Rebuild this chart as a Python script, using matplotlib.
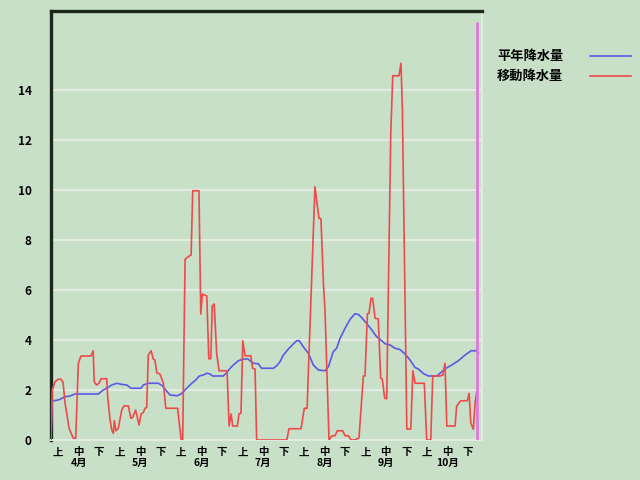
import matplotlib
matplotlib.use("Agg")
import matplotlib.pyplot as plt
from matplotlib.lines import Line2D

plt.rcParams['font.family'] = ['Noto Sans CJK JP', 'DejaVu Sans']

# ---- data (day index from April 1) ----
normal_days = [0, 0.6, 3.6, 5.0, 7.0, 9.5, 11.9, 23.5, 26.0, 28.5, 30.2, 32.7, 34.8, 37.7,
               39.8, 44.8, 45.9, 48.4, 53.4, 55.4, 57.1, 59.2, 62.9, 65.0, 67.5, 70.0, 71.6,
               73.8, 75.8, 77.5, 79.1, 80.4, 85.7, 87.4, 89.1, 90.7, 93.2, 95.7, 98.0, 100.6,
               103.1, 104.8, 110.6, 112.3, 113.9, 115.6, 118.1, 120.5, 122.2, 123.5, 125.5,
               128.0, 130.5, 133.0, 136.3, 138.0, 140.4, 142.1, 143.8, 146.3, 148.8, 151.2,
               152.9, 154.6, 157.1, 159.6, 162.0, 164.5, 166.2, 168.7, 171.1, 173.6, 176.1,
               178.6, 181.1, 182.7, 185.2, 187.7, 191.9, 194.4, 196.9, 199.4, 202.6, 206.0,
               209.0, 211.4, 212.6]
normal_vals = [0, 1.56, 1.60, 1.65, 1.73, 1.76, 1.84, 1.84, 2.00, 2.11, 2.20, 2.27, 2.23, 2.20,
               2.07, 2.07, 2.20, 2.27, 2.27, 2.17, 2.00, 1.80, 1.77, 1.86, 2.07, 2.27, 2.37,
               2.56, 2.60, 2.67, 2.64, 2.56, 2.56, 2.69, 2.87, 3.00, 3.17, 3.24, 3.24, 3.07,
               3.05, 2.87, 2.87, 2.97, 3.13, 3.40, 3.64, 3.84, 3.97, 3.97, 3.73,
               3.47, 3.00, 2.80, 2.77, 2.93, 3.53, 3.67, 4.07, 4.47, 4.83, 5.05,
               5.02, 4.89, 4.65, 4.40, 4.13, 3.97, 3.85, 3.80, 3.67, 3.62, 3.44,
               3.20, 2.90, 2.84, 2.66, 2.56, 2.56, 2.73, 2.89, 3.00, 3.17, 3.40,
               3.57, 3.57, 3.47]

moving_days = [0, 0.6, 2.0, 3.5, 5.0, 6.0, 7.0, 9.0, 11.1, 12.3, 13.6, 14.9, 19.9, 21.0, 21.5,
               22.7, 23.9, 24.9, 27.7, 28.2, 29.4, 30.2, 31.0, 31.5, 32.3, 33.5, 35.2, 36.3,
               38.5, 39.7, 40.6, 42.1, 43.8, 44.8, 45.9, 46.8, 47.6, 48.4, 49.8, 50.9, 51.7,
               52.6, 54.2, 55.9, 57.1, 63.0, 64.7, 65.5, 66.7, 68.8, 69.7, 70.5, 73.6, 74.5,
               75.3, 77.5, 78.5, 79.5, 80.2, 81.2, 82.4, 83.6, 87.1, 87.6, 88.6, 89.6, 90.4,
               92.7, 93.5, 94.5, 95.4, 96.5, 99.4, 100.3, 101.5, 102.3, 117.3, 118.4, 124.4,
               126.0, 127.4, 128.1, 131.3, 133.3, 134.3, 135.5, 136.3, 138.3, 139.7, 141.3,
               142.4, 145.1, 146.3, 147.9, 149.3, 151.2, 153.2, 154.2, 155.4, 156.2, 157.4,
               158.2, 159.2, 160.0, 161.2, 162.8, 164.0, 164.8, 166.0, 167.0, 169.0, 170.0,
               173.1, 174.1, 174.8, 177.0, 179.0, 180.0, 181.1, 185.7, 186.9, 188.9, 189.9,
               193.5, 194.9, 196.0, 196.9, 201.0, 201.8, 203.8, 207.1, 208.0, 208.8, 210.1,
               211.0, 211.8]
moving_vals = [0, 2.00, 2.33, 2.43, 2.43, 2.30, 1.47, 0.47, 0.07, 0.07, 3.07, 3.36, 3.36, 3.57, 2.33,
               2.20, 2.27, 2.45, 2.45, 1.73, 0.80, 0.40, 0.27, 0.77, 0.37, 0.47, 1.20, 1.36,
               1.36, 0.87, 0.90, 1.20, 0.60, 1.04, 1.10, 1.27, 1.30, 3.40, 3.57, 3.23, 3.20,
               2.69, 2.64, 2.27, 1.27, 1.27, 0.03, 0.0, 7.23, 7.36, 7.40, 9.97, 9.97, 5.04,
               5.84, 5.76, 3.25, 3.25, 5.36, 5.44, 3.47, 2.77, 2.77, 2.72, 0.56, 1.04, 0.56,
               0.56, 1.04, 1.07, 3.97, 3.37, 3.37, 2.87, 2.84, 0.0, 0.0, 0.45, 0.45,
               1.27, 1.27, 2.90, 10.13, 8.87, 8.85, 6.27, 5.20, 0.0, 0.17, 0.17,
               0.37, 0.37, 0.17, 0.17, 0.0, 0.0, 0.09, 1.20, 2.56, 2.56, 5.04,
               5.07, 5.67, 5.67, 4.87, 4.84, 2.47, 2.44, 1.67, 1.65, 12.2, 14.57,
               14.57, 15.07, 13.2, 0.44, 0.44, 2.77, 2.27, 2.27, 0.0, 0.0, 2.56,
               2.56, 2.60, 3.07, 0.56, 0.56, 1.36, 1.57, 1.57, 1.87, 0.69, 0.43,
               1.53, 1.93]

today_day = 211.8

dekad_labels = ['上', '中', '下'] * 7
month_labels = ['4月', '5月', '6月', '7月', '8月', '9月', '10月']
y_ticks = [0, 2, 4, 6, 8, 10, 12, 14]

legend_labels = ['平年降水量', '移動降水量']

# ---- style ----
bg = '#c8dfc8'
grid_c = '#e2ece0'
dark = '#1c281c'
blue = '#5a5ae6'
red = '#ee4a4a'
magenta = '#dc78dc'

fig = plt.figure(figsize=(6.4, 4.8), dpi=100, facecolor=bg)
ax = fig.add_axes([51/640, 1-440/480, (482-51)/640, (440-11)/480])
ax.set_facecolor(bg)

ax.set_xlim(0, 214.4)
ax.set_ylim(0, (440-11)/25)

for v in y_ticks:
    ax.axhline(v, color=grid_c, lw=1.6, zorder=1)

ax.plot(normal_days, normal_vals, color=blue, lw=1.2, zorder=3)
ax.plot(moving_days, moving_vals, color=red, lw=1.2, zorder=4)
ax.vlines(today_day, 0, (440-21.7)/25, color=magenta, lw=2.0, zorder=5)

for s in ['left', 'top']:
    ax.spines[s].set_color(dark)
    ax.spines[s].set_linewidth(2.4)
for s in ['right', 'bottom']:
    ax.spines[s].set_color(grid_c)
    ax.spines[s].set_linewidth(1.4)

ax.set_yticks(y_ticks)
ax.set_yticklabels([str(v) for v in y_ticks], fontsize=8.5, fontweight='bold')
ax.tick_params(axis='y', length=0, pad=14)
ax.set_xticks([])

# dekad / month labels
step = (207.3 - 3.5) / 20
for i, lab in enumerate(dekad_labels):
    ax.text(3.5 + step * i, -0.5, lab, ha='center', va='center', fontsize=7.5,
            fontweight='bold', clip_on=False)
for j, lab in enumerate(month_labels):
    ax.text(3.5 + step * (3 * j + 1), -0.93, lab, ha='center', va='center', fontsize=7.5,
            fontweight='bold', clip_on=False)

# legend
for k, (lab, col) in enumerate(zip(legend_labels, [blue, red])):
    yy = 1 - (56 + 20 * k) / 480
    fig.text(497/640, yy, lab, ha='left', va='center', fontsize=9.5, fontweight='bold')
    fig.add_artist(Line2D([590/640, 631/640], [yy, yy], color=col, lw=1.2,
                          transform=fig.transFigure))

fig.savefig('out.png', dpi=100, facecolor=bg)
